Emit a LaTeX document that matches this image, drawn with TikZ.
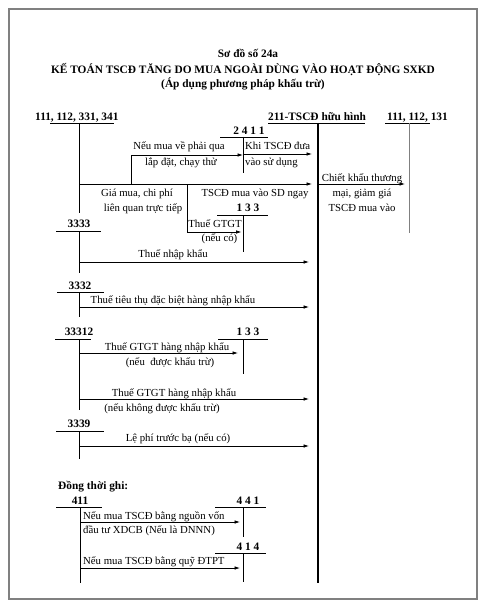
\documentclass[tikz,border=0pt]{standalone}
\usepackage{fontspec}
\setmainfont{Liberation Serif}
\usetikzlibrary{arrows.meta}

\begin{document}
\begin{tikzpicture}[x=1bp, y=-1bp, >={Latex[length=5.5pt,width=3.6pt]},
    txt/.style={font=\fontsize{10.8}{13}\selectfont, inner sep=0pt, anchor=base},
    hdr/.style={font=\fontsize{11.4}{13}\selectfont\bfseries, inner sep=0pt, anchor=base},
    tline/.style={line width=0.75pt},
    arr/.style={->, line width=0.75pt}]
    \useasboundingbox (0,0) rectangle (500,612);

    % frame
    \draw[line width=1.6pt, gray] (9,9) rectangle (477,599);

    % title
    \node[hdr] (title1) at (248,58) {Sơ đồ số 24a};
    \node[hdr] (title2) at (243,74) {KẾ TOÁN TSCĐ TĂNG DO MUA NGOÀI DÙNG VÀO HOẠT ĐỘNG SXKD};
    \node[hdr] (title3) at (243,88) {(Áp dụng phương pháp khấu trừ)};

    % main accounts
    \coordinate (v111) at (79,123);
    \coordinate (v211) at (318,123);
    \coordinate (v131) at (409,123);
    \node[hdr, anchor=base west] (h111) at (35,120.5) {111, 112, 331, 341};
    \node[hdr, anchor=base west] (h211) at (268,120.5) {211-TSCĐ hữu hình};
    \node[hdr, anchor=base west] (h131) at (387,120.5) {111, 112, 131};
    \draw[tline] (50,123) -- (114,123);
    \draw[tline] (v111) -- (79,213);
    \draw[tline] (268,123) -- (365,123);
    \draw[line width=1.6pt] (v211) -- (318,583);
    \draw[tline] (385,123) -- (430,123);
    \draw[tline, gray] (v131) -- (409,233);

    % 2411
    \coordinate (v2411) at (243,137);
    \node[hdr] (h2411) at (249,135) {2 4 1 1};
    \draw[tline] (220,137) -- (268,137);
    \draw[tline] (v2411) -- (243,173);
    \coordinate (b1) at (131,184);
    \draw[arr] (b1) |- (v2411 |- 0,155);
    \node[txt] (n1a) at (179,150) {Nếu mua về phải qua};
    \node[txt] (n1b) at (181,165.5) {lắp đặt, chạy thử};
    \draw[arr, shorten >=6bp] (v2411 |- 0,154) -- (v211 |- 0,154);
    \node[txt, anchor=base west] (n2a) at (245,150) {Khi TSCĐ đưa};
    \node[txt, anchor=base west] (n2b) at (245,165.5) {vào sử dụng};

    % purchase put into use directly
    \draw[arr, shorten >=6bp] (v111 |- 0,184) -- (v211 |- 0,184);
    \node[txt] (n3) at (255,196) {TSCĐ mua vào SD ngay};
    \node[txt] (n4a) at (137,196) {Giá mua, chi phí};
    \node[txt] (n4b) at (143,211) {liên quan trực tiếp};

    % 133 (input VAT)
    \coordinate (v133a) at (243,215);
    \node[hdr] (h133a) at (248,211) {1 3 3};
    \draw[tline] (217,215) -- (268,215);
    \draw[tline] (v133a) -- (243,252);
    \coordinate (b2) at (187,184);
    \draw[arr, shorten >=1.5bp] (b2) |- (v133a |- 0,232);
    \node[txt] (n5a) at (215,227) {Thuế GTGT};
    \node[txt] (n5b) at (219.5,241) {(nếu có)};

    % trade discount
    \draw[arr, shorten >=4bp] (v211 |- 0,184) -- (v131 |- 0,184);
    \node[txt] (n6a) at (362,182) {Chiết khấu thương};
    \node[txt] (n6b) at (362,196) {mại, giảm giá};
    \node[txt] (n6c) at (362,211) {TSCĐ mua vào};

    % 3333
    \coordinate (v3333) at (79,231);
    \node[hdr] (h3333) at (79,227) {3333};
    \draw[tline] (56,231) -- (101,231);
    \draw[tline] (v3333) -- (79,273);
    \draw[arr, shorten >=9bp] (v3333 |- 0,262) -- (v211 |- 0,262);
    \node[txt] (n7) at (173,257) {Thuế nhập khẩu};

    % 3332
    \coordinate (v3332) at (79,292);
    \node[hdr] (h3332) at (80,289) {3332};
    \draw[tline] (57,292) -- (104,292);
    \draw[tline] (v3332) -- (79,317);
    \draw[arr, shorten >=9bp] (v3332 |- 0,307) -- (v211 |- 0,307);
    \node[txt] (n8) at (173,303) {Thuế tiêu thụ đặc biệt hàng nhập khẩu};

    % 33312
    \coordinate (v33312) at (79,339);
    \node[hdr] (h33312) at (79,335) {33312};
    \draw[tline] (55,339) -- (91,339);
    \draw[tline] (v33312) -- (79,410);
    \coordinate (v133b) at (243,339);
    \node[hdr] (h133b) at (248,335) {1 3 3};
    \draw[tline] (218,339) -- (268,339);
    \draw[tline] (v133b) -- (243,374);
    \draw[arr, shorten >=5bp] (v33312 |- 0,353) -- (v133b |- 0,353);
    \node[txt] (n9a) at (167,350) {Thuế GTGT hàng nhập khẩu};
    \node[txt] (n9b) at (170,365) {(nếu\ \ được khấu trừ)};
    \draw[arr, shorten >=9bp] (v33312 |- 0,399) -- (v211 |- 0,399);
    \node[txt] (n10a) at (174,396) {Thuế GTGT hàng nhập khẩu};
    \node[txt] (n10b) at (162,411) {(nếu không được khấu trừ)};

    % 3339
    \coordinate (v3339) at (79,431);
    \node[hdr] (h3339) at (79,427) {3339};
    \draw[tline] (56,431) -- (104,431);
    \draw[tline] (v3339) -- (79,459);
    \draw[arr, shorten >=9bp] (v3339 |- 0,446) -- (v211 |- 0,446);
    \node[txt] (n11) at (178,441) {Lệ phí trước bạ (nếu có)};

    % simultaneous entries
    \node[hdr, anchor=base west] (dtg) at (58,489) {Đồng thời ghi:};
    \coordinate (v411) at (80,507);
    \node[hdr] (h411) at (80,504) {411};
    \draw[tline] (56,507) -- (102,507);
    \draw[tline] (v411) -- (80,583);
    \coordinate (v441) at (243,507);
    \node[hdr] (h441) at (248,504) {4 4 1};
    \draw[tline] (215,507) -- (266,507);
    \draw[tline] (v441) -- (243,537);
    \draw[arr, shorten >=3bp] (v411 |- 0,522) -- (v441 |- 0,522);
    \node[txt, anchor=base west] (n12a) at (83,519) {Nếu mua TSCĐ bằng nguồn vốn};
    \node[txt, anchor=base west] (n12b) at (83,533) {đầu tư XDCB (Nếu là DNNN)};
    \coordinate (v414) at (243,553);
    \node[hdr] (h414) at (248,550) {4 1 4};
    \draw[tline] (215,553) -- (266,553);
    \draw[tline] (v414) -- (243,582);
    \draw[arr, shorten >=3bp] (v411 |- 0,568) -- (v414 |- 0,568);
    \node[txt, anchor=base west] (n13) at (83,564) {Nếu mua TSCĐ bằng quỹ ĐTPT};
\end{tikzpicture}
\end{document}
